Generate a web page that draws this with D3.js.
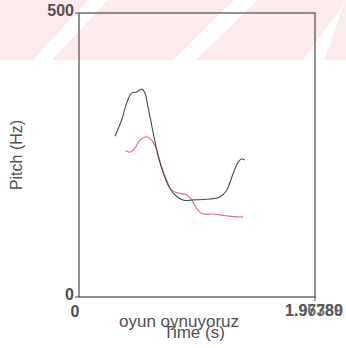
<!DOCTYPE html>
<html>
<head>
<meta charset="utf-8">
<script src="https://cdn.jsdelivr.net/npm/d3@7"></script>
<style>
  body { margin: 0; background: #fff; }
  text { font-family: "Liberation Sans", Arial, sans-serif; fill: #505050; }
</style>
</head>
<body>
<div id="chart"></div>
<script>
// pitch contours, time in s / pitch in Hz
var darkTime  = [0.300, 0.356, 0.397, 0.439, 0.481, 0.525, 0.550, 0.575, 0.619, 0.661, 0.703, 0.758, 0.814, 0.883, 0.953, 1.064, 1.175, 1.231, 1.286, 1.328, 1.356, 1.383];
var darkPitch = [283, 312, 341, 359, 361, 366, 359, 335, 289, 247, 218, 191, 177, 170, 171, 172, 176, 188, 218, 238, 243, 241];

var redTime  = [0.389, 0.425, 0.467, 0.508, 0.564, 0.606, 0.648, 0.689, 0.731, 0.772, 0.828, 0.897, 0.939, 0.981, 1.022, 1.119, 1.231, 1.314, 1.369];
var redPitch = [258, 255, 262, 276, 282, 276, 259, 229, 206, 188, 183, 180, 171, 156, 147, 146, 143, 141, 141];

var yTicks = [0, 500];
var xTicks = ["0"];
var xEndLabels = ["1.96780", "1.97389"];
var xDomain = [0, 1.9678];
var yDomain = [0, 500];
var utterance = "oyun oynuyoruz";

var width = 346, height = 348;
var margin = {top: 13, right: 31, bottom: 51, left: 79};
var innerW = width - margin.left - margin.right;
var innerH = height - margin.top - margin.bottom;

var svg = d3.select("#chart").append("svg")
    .attr("width", width)
    .attr("height", height);

// pale pink diagonal watermark band at the top of the scan
var bg = svg.append("g");
bg.append("rect")
    .attr("x", 0).attr("y", 0)
    .attr("width", width).attr("height", 60)
    .attr("fill", "#fdeaed");
var stripes = [[33, 52, 108, 88], [173, 196, 258, 234], [303, 324, 346, 346]];
stripes.forEach(function(s) {
    bg.append("polygon")
        .attr("points", s[0] + ",60 " + s[1] + ",60 " + s[2] + ",0 " + s[3] + ",0")
        .attr("fill", "#fff");
});

var g = svg.append("g")
    .attr("transform", "translate(" + margin.left + "," + margin.top + ")");

var x = d3.scaleLinear().domain(xDomain).range([0, innerW]);
var y = d3.scaleLinear().domain(yDomain).range([innerH, 0]);

// frame
g.append("rect")
    .attr("x", 0).attr("y", 0)
    .attr("width", innerW).attr("height", innerH)
    .attr("fill", "none")
    .attr("stroke", "#4a4a4a")
    .attr("stroke-width", 1.2);

// y ticks
g.selectAll(".ytick").data(yTicks).enter().append("line")
    .attr("x1", -4).attr("x2", 0)
    .attr("y1", function(d) { return y(d); })
    .attr("y2", function(d) { return y(d); })
    .attr("stroke", "#4a4a4a");

g.selectAll(".ylab").data(yTicks).enter().append("text")
    .attr("x", -5)
    .attr("y", function(d) { return y(d) + 3; })
    .attr("text-anchor", "end")
    .style("font-size", "16px")
    .style("font-weight", "bold")
    .text(function(d) { return d; });

// x ticks
g.append("line")
    .attr("x1", innerW).attr("x2", innerW)
    .attr("y1", innerH).attr("y2", innerH + 4)
    .attr("stroke", "#4a4a4a");

g.selectAll(".xlab").data(xTicks).enter().append("text")
    .attr("x", function(d) { return x(+d) - 4; })
    .attr("y", innerH + 20)
    .attr("text-anchor", "middle")
    .style("font-size", "16px")
    .style("font-weight", "bold")
    .text(function(d) { return d; });

// two overprinted end labels
g.selectAll(".xend").data(xEndLabels).enter().append("text")
    .attr("x", x(xDomain[1]) - 1)
    .attr("y", innerH + 19)
    .attr("text-anchor", "middle")
    .style("font-size", "16px")
    .style("font-weight", "bold")
    .style("fill-opacity", 0.8)
    .text(function(d) { return d; });

// axis titles (they overprint each other in the original)
g.append("text")
    .attr("x", 100)
    .attr("y", innerH + 30)
    .attr("text-anchor", "middle")
    .style("font-size", "17px")
    .text(utterance);

g.append("text")
    .attr("x", 115)
    .attr("y", innerH + 41)
    .attr("text-anchor", "middle")
    .style("font-size", "17px")
    .text("Time (s)");

svg.append("text")
    .attr("transform", "translate(22,155) rotate(-90)")
    .attr("text-anchor", "middle")
    .style("font-size", "16px")
    .text("Pitch (Hz)");

// contours
var line = d3.line()
    .x(function(d) { return x(d[0]); })
    .y(function(d) { return y(d[1]); })
    .curve(d3.curveCatmullRom);

g.append("path")
    .datum(d3.zip(redTime, redPitch))
    .attr("d", line)
    .attr("fill", "none")
    .attr("stroke", "#e06a80")
    .attr("stroke-width", 1.1);

g.append("path")
    .datum(d3.zip(darkTime, darkPitch))
    .attr("d", line)
    .attr("fill", "none")
    .attr("stroke", "#3f4d4b")
    .attr("stroke-width", 1.1);
</script>
</body>
</html>
